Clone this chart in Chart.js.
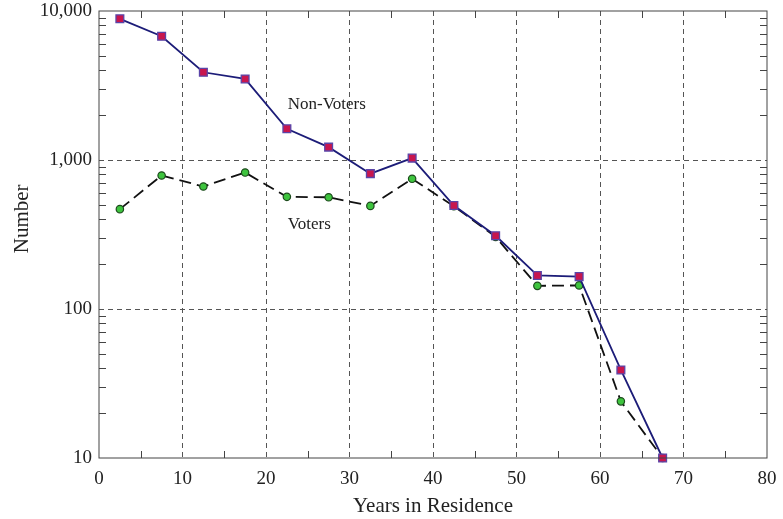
<!DOCTYPE html>
<html>
<head>
<meta charset="utf-8">
<script src="https://cdn.jsdelivr.net/npm/chart.js@4.4.1/dist/chart.umd.min.js"></script>
<style>
  html, body { margin: 0; padding: 0; background: #fff; }
  #wrap { width: 783px; height: 519px; }
</style>
</head>
<body>
<div id="wrap"><canvas id="chart"></canvas></div>
<script>
// values
const years = [2.5, 7.5, 12.5, 17.5, 22.5, 27.5, 32.5, 37.5, 42.5, 47.5, 52.5, 57.5, 62.5, 67.5];
const nonVoters = [8860, 6770, 3880, 3500, 1620, 1220, 810, 1030, 495, 310, 168, 165, 39, 10];
const voters = [468, 787, 664, 824, 566, 562, 492, 748, 490, 305, 143, 144, 24, 10];
const xTicks = [0, 10, 20, 30, 40, 50, 60, 70, 80];
const yTicks = [10, 100, 1000, 10000];
const seriesLabels = ['Non-Voters', 'Voters'];

const serif = '"Liberation Serif", "Times New Roman", serif';

// frame, inward minor ticks, y title and in-plot series labels
const framePlugin = {
    id: 'frame',
    afterDraw(chart) {
        const ctx = chart.ctx;
        const a = chart.chartArea;
        const xs = chart.scales.x;
        const ys = chart.scales.y;
        ctx.save();
        ctx.strokeStyle = '#444';
        ctx.lineWidth = 1;
        ctx.strokeRect(a.left, a.top, a.right - a.left, a.bottom - a.top);

        ctx.beginPath();
        // x minor ticks at 5, 15, ...
        for (let v = 5; v < 80; v += 10) {
            const px = Math.round(xs.getPixelForValue(v)) + 0.5;
            ctx.moveTo(px, a.bottom); ctx.lineTo(px, a.bottom - 7);
            ctx.moveTo(px, a.top); ctx.lineTo(px, a.top + 7);
        }
        // y minor ticks 2..9 per decade
        for (let d = 10; d < 10000; d *= 10) {
            for (let m = 2; m <= 9; m++) {
                const py = Math.round(ys.getPixelForValue(d * m)) + 0.5;
                ctx.moveTo(a.left, py); ctx.lineTo(a.left + 7, py);
                ctx.moveTo(a.right, py); ctx.lineTo(a.right - 7, py);
            }
        }
        ctx.stroke();

        ctx.fillStyle = '#222';
        ctx.font = '17px ' + serif;
        ctx.textAlign = 'left';
        ctx.textBaseline = 'middle';
        ctx.fillText(seriesLabels[0], xs.getPixelForValue(22.6), ys.getPixelForValue(2350));
        ctx.fillText(seriesLabels[1], xs.getPixelForValue(22.6), ys.getPixelForValue(370));

        // y axis title, sits a little above the middle as in the reference
        ctx.translate(22, a.top + (a.bottom - a.top) * 0.465);
        ctx.rotate(-Math.PI / 2);
        ctx.textAlign = 'center';
        ctx.font = '21px ' + serif;
        ctx.fillText('Number', 0, 0);
        ctx.restore();
    }
};

new Chart(document.getElementById('chart'), {
    type: 'line',
    data: {
        datasets: [{
            label: seriesLabels[0],
            data: years.map((x, i) => ({ x: x, y: nonVoters[i] })),
            borderColor: '#1c1c78',
            borderWidth: 1.8,
            pointStyle: 'rect',
            pointRadius: 5.5,
            pointBackgroundColor: '#c8164e',
            pointBorderColor: '#5a44a8',
            pointBorderWidth: 1.3,
            clip: 8,
            order: 1
        }, {
            label: seriesLabels[1],
            data: years.map((x, i) => ({ x: x, y: voters[i] })),
            borderColor: '#111',
            borderWidth: 1.8,
            borderDash: [12, 6],
            pointStyle: 'circle',
            pointRadius: 3.7,
            pointBackgroundColor: '#3ec43e',
            pointBorderColor: '#1d4a1d',
            pointBorderWidth: 1.2,
            clip: 8,
            order: 2
        }]
    },
    options: {
        responsive: true,
        maintainAspectRatio: false,
        animation: false,
        layout: { padding: { left: 0, right: 16, top: 11, bottom: 0 } },
        plugins: {
            legend: { display: false },
            tooltip: { enabled: false }
        },
        scales: {
            x: {
                type: 'linear',
                min: 0,
                max: 80,
                afterBuildTicks: scale => { scale.ticks = xTicks.map(v => ({ value: v })); },
                afterFit: scale => {
                    scale.height = 61;
                    scale.paddingLeft = 0;
                    scale.paddingRight = 0;
                },
                ticks: {
                    color: '#222',
                    font: { family: serif, size: 19 },
                    padding: 10,
                    maxRotation: 0
                },
                grid: {
                    color: c => (c.tick && c.tick.value > 0 && c.tick.value < 80) ? '#555' : 'rgba(0,0,0,0)',
                    drawTicks: false,
                    tickBorderDash: [5, 4]
                },
                border: { display: false, dash: [5, 4] },
                title: {
                    display: true,
                    text: 'Years in Residence',
                    color: '#222',
                    font: { family: serif, size: 21 },
                    padding: { top: 0, bottom: 0 }
                }
            },
            y: {
                type: 'logarithmic',
                min: 10,
                max: 10000,
                afterBuildTicks: scale => { scale.ticks = yTicks.map(v => ({ value: v })); },
                afterFit: scale => {
                    scale.width = 99;
                    scale.paddingTop = 0;
                    scale.paddingBottom = 0;
                },
                ticks: {
                    color: '#222',
                    font: { family: serif, size: 19 },
                    padding: 7,
                    callback: v => Number(v).toLocaleString('en-US')
                },
                grid: {
                    color: c => (c.tick && c.tick.value > 10 && c.tick.value < 10000) ? '#555' : 'rgba(0,0,0,0)',
                    drawTicks: false
                },
                border: { display: false, dash: [5, 4] },
                title: { display: false }
            }
        }
    },
    plugins: [framePlugin]
});
</script>
</body>
</html>
